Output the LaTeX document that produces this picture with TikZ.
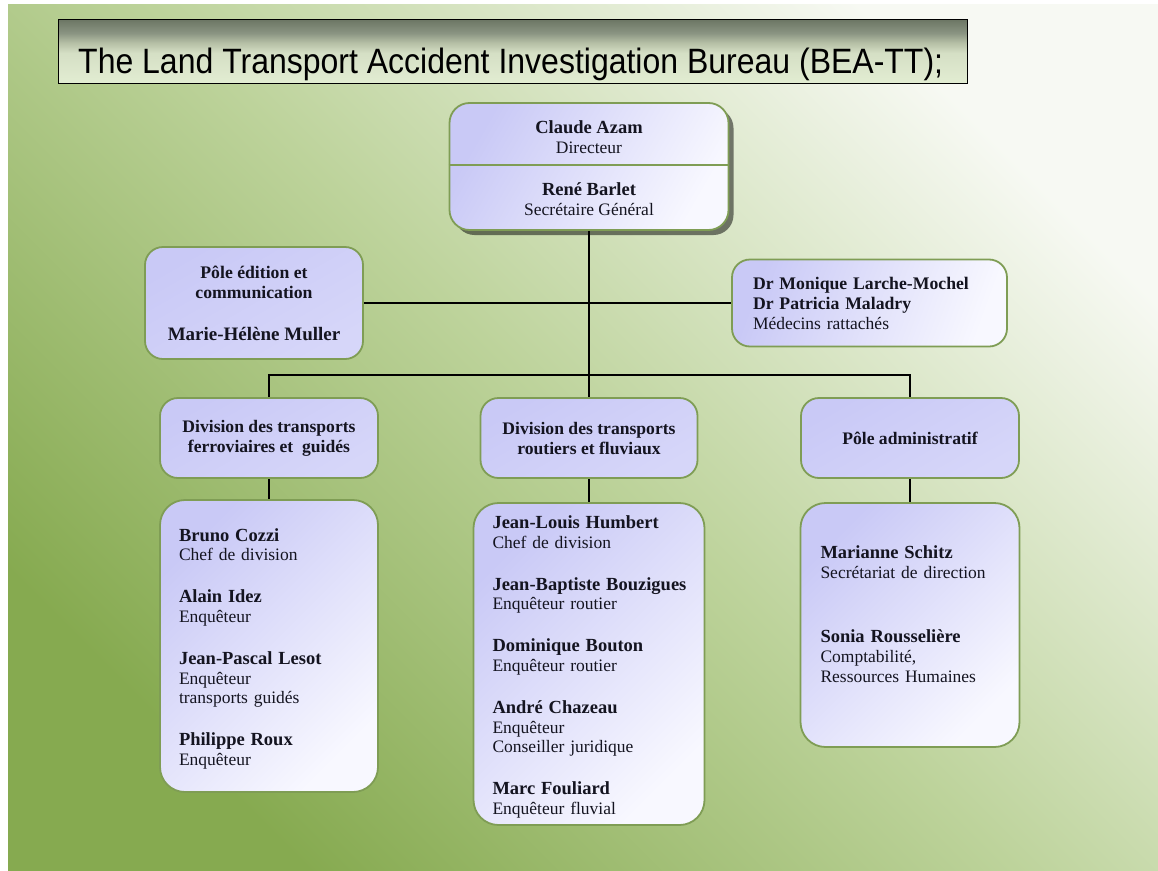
\documentclass[tikz,border=0pt]{standalone}
\usepackage{fontspec}
\usepackage{graphicx}
\setmainfont{Liberation Serif}
\newfontfamily\titlefont{Liberation Sans}
\usetikzlibrary{shadows}

\definecolor{bgBL}{HTML}{86AA50}
\definecolor{bgM}{HTML}{BDD39B}
\definecolor{bgTR}{HTML}{F7F9F3}
\definecolor{edge}{HTML}{7F9D55}
\definecolor{lavA}{HTML}{C9C9F6}
\definecolor{lavB}{HTML}{D6D6F9}
\definecolor{lavL}{HTML}{F8F8FF}
\definecolor{ink}{HTML}{141420}
\definecolor{tA}{HTML}{6B7563}
\definecolor{tB}{HTML}{8A9482}
\definecolor{tC}{HTML}{B5BFA5}
\definecolor{tD}{HTML}{D5DFC5}
\definecolor{tE}{HTML}{E2EDD2}

\pgfdeclareverticalshading{titleshade}{100bp}{color(0bp)=(tE); color(25bp)=(tE); color(48.5bp)=(tD); color(56.5bp)=(tC); color(64bp)=(tB); color(75bp)=(tA); color(100bp)=(tA)}

\newcommand\nm[2][18.5]{\mbox{\fontsize{#1}{20}\selectfont\bfseries #2}}

\tikzset{
  bx/.style={draw=edge, line width=1.8pt, rounded corners=18pt, inner sep=0pt,
    font=\fontsize{17.5}{20}\selectfont, text=ink},
  flatbox/.style={bx, top color=lavA, bottom color=lavB, shading angle=30},
  softbox/.style={bx, top color=lavA, bottom color=lavL, shading angle=45},
  peoplebox/.style={softbox, rounded corners=25pt, align=left,
    font=\fontsize{17.5}{19.7}\selectfont},
  wire/.style={line width=2.2pt, draw=black},
}

\begin{document}
\begin{tikzpicture}[x=1pt,y=-1pt]
\useasboundingbox (0,0) rectangle (1158,870);
\fill[white] (0,0) rectangle (1158,870);
\shade[top color=bgTR, bottom color=bgBL, middle color=bgM, shading angle=-45]
  (8,4) rectangle (1158,870);

% title
\node[shade, shading=titleshade, draw=black, line width=1pt, minimum width=909pt,
  minimum height=64pt, inner sep=0pt] (title) at (512.5,51) {};
\begin{scope}
  \clip ([yshift=3pt]title.south west) rectangle (title.north east);
  \node[anchor=base west, inner sep=0pt, font=\titlefont\fontsize{32}{36}\selectfont]
    (ttl) at (78,73) {\scalebox{1}[1.1]{The Land Transport Accident Investigation Bureau (BEA-TT);}};
\end{scope}

% top box
\node[softbox, rounded corners=20pt, shading angle=60,
  drop shadow={shadow xshift=5pt, shadow yshift=-5pt, opacity=0.5, fill=black},
  minimum width=279pt, minimum height=127pt, align=center] (top) at (589,166.5)
  {\rule{0pt}{16.6pt}\nm{Claude Azam}\\Directeur\\[22pt]\nm{René Barlet}\\Secrétaire Général};
\draw[edge, line width=1.8pt] (top.west |- 0,165) -- (top.east |- 0,165);

% second level
\node[flatbox, minimum width=218pt, minimum height=112pt, align=center] (pole) at (254,303)
  {\nm[17.7]{Pôle édition et}\\\nm[17.7]{communication}\\[22pt]\nm[19]{Marie-Hélène Muller}};
\node[softbox, shading angle=70, minimum width=275pt, minimum height=87pt, align=left,
  text width=233pt, inner xsep=21pt] (dr) at (869.5,303)
  {\nm[17.7]{Dr Monique Larche-Mochel}\\\nm[17.7]{Dr Patricia Maladry}\\Médecins rattachés};

% divisions
\node[flatbox, minimum width=218pt, minimum height=80pt, align=center] (divL) at (269,438)
  {\nm[17.6]{Division des transports}\\\nm[17.6]{ferroviaires et~ guidés}};
\node[flatbox, minimum width=217pt, minimum height=80pt, align=center] (divM) at (589,438)
  {\nm[17.6]{Division des transports}\\\nm[17.6]{routiers et fluviaux}};
\node[flatbox, minimum width=218pt, minimum height=80pt, align=center] (divR) at (910,438)
  {\nm[17.6]{Pôle administratif}};

% people
\node[peoplebox, minimum width=218pt, minimum height=292pt, text width=180pt, inner xsep=19pt]
  (pL) at (269,646)
  {\rule{0pt}{18.6pt}\nm{Bruno Cozzi}\\Chef de division\\[22.3pt]\nm{Alain Idez}\\Enquêteur\\[22.3pt]%
   \nm{Jean-Pascal Lesot}\\Enquêteur\\transports guidés\\[22.3pt]\nm{Philippe Roux}\\Enquêteur};
\node[peoplebox, minimum width=231pt, minimum height=322pt, text width=193pt, inner xsep=19pt]
  (pM) at (589,664)
  {\rule{0pt}{18.6pt}\nm{Jean-Louis Humbert}\\Chef de division\\[22.3pt]\nm{Jean-Baptiste Bouzigues}\\Enquêteur routier\\[22.3pt]%
   \nm{Dominique Bouton}\\Enquêteur routier\\[22.3pt]\nm{André Chazeau}\\Enquêteur\\Conseiller juridique\\[22.3pt]%
   \nm{Marc Fouliard}\\Enquêteur fluvial};
\node[peoplebox, font=\fontsize{17.5}{20}\selectfont, minimum width=219pt, minimum height=244pt,
  text width=179pt, inner xsep=20pt] (pR) at (910,625)
  {\nm{Marianne Schitz}\\Secrétariat de direction\\[44pt]\nm{Sonia Rousselière}\\Comptabilité,\\Ressources Humaines\\[2pt]\mbox{}};

% connectors
\coordinate (bar) at (589,375);
\draw[wire] (top.south) -- (divM.north);
\draw[wire] (pole.east) -- (dr.west);
\draw[wire] (divL.north) |- (bar) -| (divR.north);
\draw[wire] (divL.south) -- (pL.north);
\draw[wire] (divM.south) -- (pM.north);
\draw[wire] (divR.south) -- (pR.north);
\end{tikzpicture}
\end{document}
